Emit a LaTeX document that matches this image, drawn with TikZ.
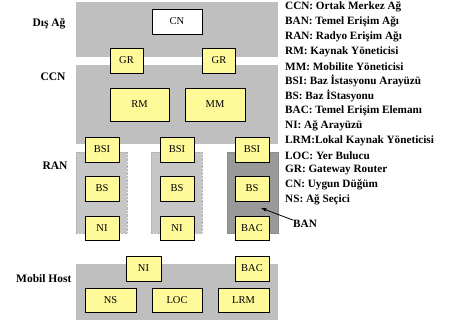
\documentclass[tikz,border=0pt]{standalone}
\usepackage{fontspec}
\setmainfont{Liberation Serif}
\usepackage{tikz}
\usetikzlibrary{shadows}

\begin{document}
\begin{tikzpicture}[x=1pt, y=-1pt, auto,
		area_style/.style={fill=gray!50,draw=none,inner sep=0pt},
		col_style/.style={fill=gray!45,draw=gray!60,densely dotted,inner sep=0pt},
		box_style/.style={rectangle,draw=black,fill=yellow!40,inner sep=0pt,font=\fontsize{10.5}{11}\selectfont,
			drop shadow={shadow xshift=0.8pt,shadow yshift=-0.8pt,fill=black!70,opacity=1}},
		white_style/.style={box_style,fill=white},
		side_style/.style={anchor=east,font=\fontsize{11.5}{12}\selectfont\bfseries},
		key_style/.style={anchor=west,inner sep=0pt,font=\fontsize{11.2}{12}\selectfont\bfseries},
		edge_style/.style={draw=black,thick,-latex}]
		
		\useasboundingbox (0,0) rectangle (454,325);
		
		% layers
		\node[area_style,minimum width=202pt,minimum height=55pt] (a_dis) at (177,29.5) {};
		\node[area_style,minimum width=202pt,minimum height=79pt] (a_ccn) at (177,104.5) {};
		\node[col_style,minimum width=51pt,minimum height=81pt] (a_ran1) at (101.5,192.5) {};
		\node[col_style,minimum width=51pt,minimum height=81pt] (a_ran2) at (176.5,192.5) {};
		\node[area_style,fill=gray!80,draw=gray!90,minimum width=51pt,minimum height=81pt] (a_ran3) at (252.5,192.5) {};
		\node[area_style,minimum width=202pt,minimum height=56pt] (a_mob) at (177,292) {};
		
		\node[side_style] (s_dis) at (69,24) {Dış Ağ};
		\node[side_style] (s_ccn) at (69,77) {CCN};
		\node[side_style] (s_ran) at (71,166) {RAN};
		\node[side_style] (s_mob) at (75,279) {Mobil Host};
		
		% boxes
		\node[white_style,minimum width=50pt,minimum height=25pt] (n_cn) at (177,21.5) {CN};
		\node[box_style,minimum width=33pt,minimum height=25pt] (n_gr1) at (126.5,60.5) {GR};
		\node[box_style,minimum width=33pt,minimum height=25pt] (n_gr2) at (219,60.5) {GR};
		\node[box_style,minimum width=59pt,minimum height=33pt] (n_rm) at (139.5,104.5) {RM};
		\node[box_style,minimum width=60pt,minimum height=33pt] (n_mm) at (215,104.5) {MM};
		
		\node[box_style,minimum width=34pt,minimum height=25pt] (n_bsi1) at (102,149.5) {BSI};
		\node[box_style,minimum width=34pt,minimum height=25pt] (n_bsi2) at (177,149.5) {BSI};
		\node[box_style,minimum width=34pt,minimum height=25pt] (n_bsi3) at (252,149.5) {BSI};
		\node[box_style,minimum width=34pt,minimum height=25pt] (n_bs1) at (102,188.5) {BS};
		\node[box_style,minimum width=34pt,minimum height=25pt] (n_bs2) at (177,188.5) {BS};
		\node[box_style,minimum width=34pt,minimum height=25pt] (n_bs3) at (252,188.5) {BS};
		\node[box_style,minimum width=34pt,minimum height=24pt] (n_ni1) at (102,228) {NI};
		\node[box_style,minimum width=34pt,minimum height=24pt] (n_ni2) at (177,228) {NI};
		\node[box_style,minimum width=34pt,minimum height=24pt] (n_bac1) at (252,228) {BAC};
		
		\node[box_style,minimum width=35pt,minimum height=25pt] (n_ni3) at (143.5,268.5) {NI};
		\node[box_style,minimum width=34pt,minimum height=25pt] (n_bac2) at (252,268.5) {BAC};
		\node[box_style,minimum width=51pt,minimum height=24pt] (n_ns) at (110.5,300) {NS};
		\node[box_style,minimum width=50pt,minimum height=24pt] (n_loc) at (177,300) {LOC};
		\node[box_style,minimum width=51pt,minimum height=24pt] (n_lrm) at (243.5,300) {LRM};
		
		% BAN pointer
		\node[anchor=west,inner sep=0pt,font=\fontsize{11.2}{12}\selectfont\bfseries] (n_ban) at (293,224) {BAN};
		\coordinate (ban_tip) at (261,208);
		\draw[edge_style] (n_ban.north west) -- (ban_tip);
		
		% key
		\node[key_style] (k1) at (285,7) {CCN: Ortak Merkez Ağ};
		\node[key_style] (k2) at (285,21.85) {BAN: Temel Erişim Ağı};
		\node[key_style] (k3) at (285,36.7) {RAN: Radyo Erişim Ağı};
		\node[key_style] (k4) at (285,51.55) {RM: Kaynak Yöneticisi};
		\node[key_style] (k5) at (285,66.4) {MM: Mobilite Yöneticisi};
		\node[key_style] (k6) at (285,81.25) {BSI: Baz İstasyonu Arayüzü};
		\node[key_style] (k7) at (285,96.1) {BS: Baz İStasyonu};
		\node[key_style] (k8) at (285,110.95) {BAC: Temel Erişim Elemanı};
		\node[key_style] (k9) at (285,125.8) {NI: Ağ Arayüzü};
		\node[key_style] (k10) at (285,140.65) {LRM:Lokal Kaynak Yöneticisi};
		\node[key_style] (k11) at (285,155.5) {LOC: Yer Bulucu};
		\node[key_style] (k12) at (285,170.35) {GR: Gateway Router};
		\node[key_style] (k13) at (285,185.2) {CN: Uygun Düğüm};
		\node[key_style] (k14) at (285,200) {NS: Ağ Seçici};
		
		\end{tikzpicture}
\end{document}
